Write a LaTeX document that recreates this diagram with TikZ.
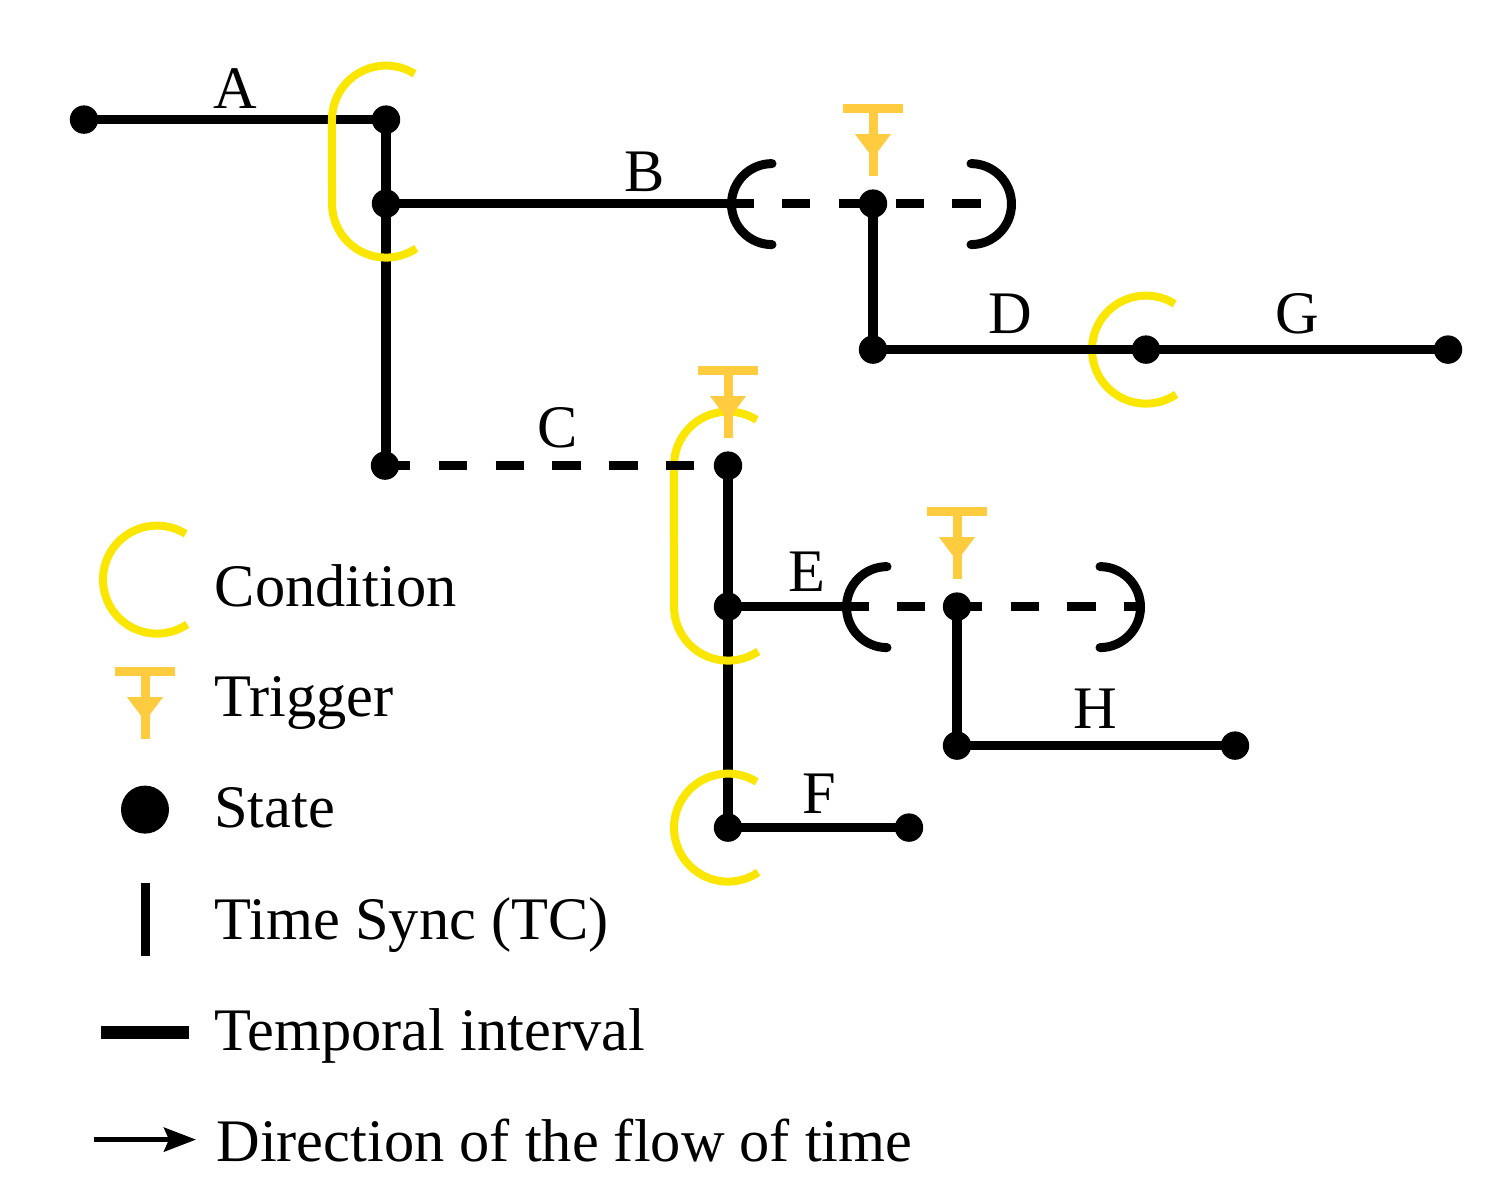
\documentclass[tikz,border=0pt]{standalone}
\usepackage{fontspec}
\setmainfont{Liberation Serif}
\usetikzlibrary{arrows.meta}
\definecolor{condyellow}{HTML}{FBE600}
\definecolor{trigorange}{HTML}{FFCC40}
\tikzset{
  state/.style={circle,fill=black,draw=none,minimum size=14.2pt,inner sep=0pt},
  bigstate/.style={circle,fill=black,draw=none,minimum size=24pt,inner sep=0pt},
  interval/.style={line width=4.8pt,black},
  dashint/.style={line width=4.8pt,black,dash pattern=on 14.2pt off 14.2pt},
  cond/.style={line width=4pt,condyellow},
  bracket/.style={line width=4.5pt,black,line cap=round},
  lab/.style={font=\fontsize{30.2pt}{36pt}\selectfont,inner sep=0pt,anchor=base},
  legtext/.style={font=\fontsize{30.2pt}{36pt}\selectfont,inner sep=0pt,anchor=base west},
  trig/.pic={
    \draw[line width=4.5pt,trigorange] (-30,0) -- (30,0);
    \draw[line width=4.5pt,trigorange] (0,0) -- (0,68);
    \fill[trigorange] (-18,26) -- (18,26) -- (0,50) -- cycle;
  },
}
\begin{document}
\begin{tikzpicture}[x=0.5pt,y=-0.5pt]
\useasboundingbox (0,-0.6) rectangle (1505,1189.4);
% coordinates of the network
\coordinate (a0) at (84,119);
\coordinate (a1) at (386,119);
\coordinate (b0) at (386,203);
\coordinate (bs) at (754,203);
\coordinate (bd0) at (782,203);
\coordinate (bd1) at (981,203);
\coordinate (b1) at (873,203);
\coordinate (d0) at (873,349);
\coordinate (d1) at (1146,349);
\coordinate (g1) at (1448,349);
\coordinate (c0) at (385,465);
\coordinate (cd0) at (382,465);
\coordinate (cd1) at (694,465);
\coordinate (c1) at (728,465);
\coordinate (e0) at (728,606);
\coordinate (es) at (869,606);
\coordinate (ed0) at (897,606);
\coordinate (ed1) at (1140,606);
\coordinate (e1) at (957,606);
\coordinate (h0) at (957,745);
\coordinate (h1) at (1235,745);
\coordinate (f0) at (728,827);
\coordinate (f1) at (909,827);
% solid black connectors under the conditions
\draw[interval] (a0) -- (a1);
\draw[interval] (a1) -- (a1|-c0);
\draw[interval] (b0) -- (bs);
\draw[interval] (b1) -- (d0);
\draw[interval] (c1) -- (f0);
\draw[interval] (e0) -- (es);
\draw[interval] (e1) -- (h0);
\draw[interval] (h0) -- (h1);
\draw[interval] (f0) -- (f1);
% conditions
\draw[cond] (414.6,73.2) arc[start angle=-58,end angle=-180,radius=54] -- (332,203) arc[start angle=-180,end angle=-304,radius=54];
\draw[cond] (1174.6,303.2) arc[start angle=-58,end angle=-304,radius=54];
\draw[cond] (756.6,419.2) arc[start angle=-58,end angle=-180,radius=54] -- (674,606) arc[start angle=-180,end angle=-304,radius=54];
\draw[cond] (756.6,781.2) arc[start angle=-58,end angle=-304,radius=54];
\draw[cond] (185.6,533.2) arc[start angle=-58,end angle=-304,radius=54];
% connectors over the conditions
\draw[interval] (d0) -- (g1);
\draw[dashint] (bd0) -- (bd1);
\draw[dashint] (cd0) -- (cd1);
\draw[dashint] (ed0) -- (ed1);
% brackets
\draw[bracket] (772,163) arc[start angle=-90,end angle=-270,radius=40.5];
\draw[bracket] (971,163) arc[start angle=-90,end angle=90,radius=40.5];
\draw[bracket] (887,566) arc[start angle=-90,end angle=-270,radius=40.5];
\draw[bracket] (1100,566) arc[start angle=-90,end angle=90,radius=40.5];
% triggers
\pic (t1) at (873,107.5) {trig};
\pic (t2) at (728,369.5) {trig};
\pic (t3) at (957,510.5) {trig};
\pic (t4) at (145,670.5) {trig};
% states
\foreach \n in {a0,a1,b0,b1,d0,d1,g1,c0,c1,e0,e1,h0,h1,f0,f1}
  \node[state] (s\n) at (\n) {};
% labels
\node[lab] (la) at (235.5,108) {A};
\node[lab] (lb) at (645,191) {B};
\node[lab] (lc) at (558,447) {C};
\node[lab] (ld) at (1010.5,333) {D};
\node[lab] (lg) at (1297.5,333) {G};
\node[lab] (le) at (806.5,591) {E};
\node[lab] (lf) at (819.5,813) {F};
\node[lab] (lh) at (1095.5,728) {H};
% legend
\node[bigstate] (lstate) at (145,809) {};
\coordinate (ts0) at (145,882);
\coordinate (ts1) at (145,955);
\draw[line width=4.5pt] (ts0) -- (ts1);
\coordinate (ti0) at (101,1032);
\coordinate (ti1) at (189,1032);
\draw[line width=6.4pt] (ti0) -- (ti1);
\coordinate (ar0) at (94,1139);
\coordinate (ar1) at (196,1139);
\draw[line width=2.5pt,-{Stealth[length=16pt,width=12pt,inset=2.5pt]}] (ar0) -- (ar1);
\node[legtext] (t-cond) at (214.5,606) {Condition};
\node[legtext] (t-trig) at (214.5,716) {Trigger};
\node[legtext] (t-state) at (214,827) {State};
\node[legtext] (t-sync) at (214.5,939) {Time Sync (TC)};
\node[legtext] (t-temp) at (214.5,1050) {Temporal interval};
\node[legtext] (t-dir) at (216,1161) {Direction of the flow of time};
\end{tikzpicture}
\end{document}
